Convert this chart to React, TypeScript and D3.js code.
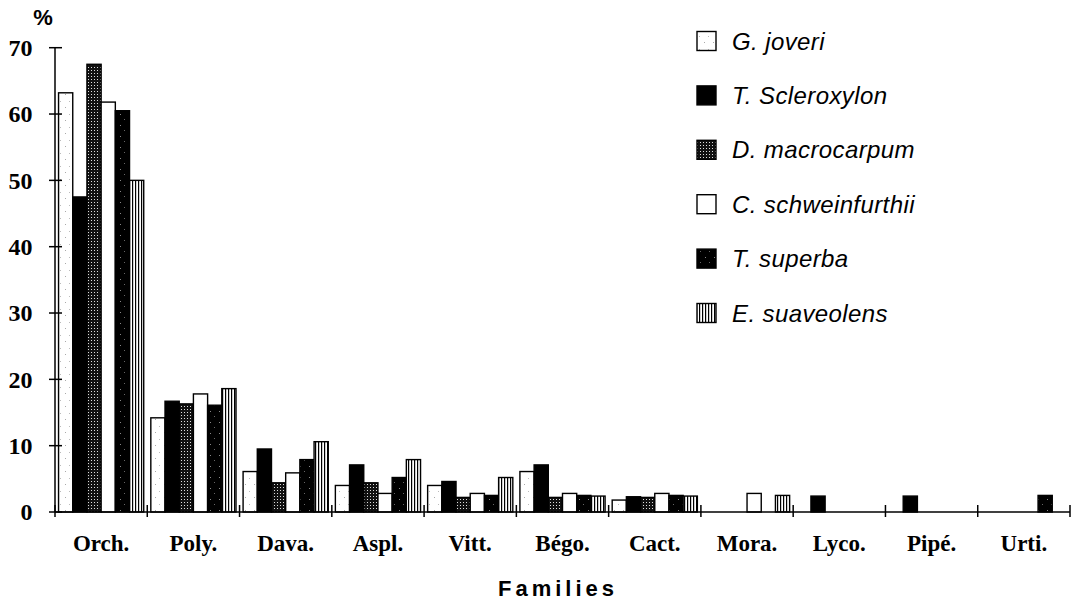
import React from 'react';
import * as d3 from 'd3';

const categories = ['Orch.', 'Poly.', 'Dava.', 'Aspl.', 'Vitt.', 'Bégo.', 'Cact.', 'Mora.', 'Lyco.', 'Pipé.', 'Urti.'];
const seriesNames = ['G. joveri', 'T. Scleroxylon', 'D. macrocarpum', 'C. schweinfurthii', 'T. superba', 'E. suaveolens'];
const gJoveri = [63.2, 14.2, 6.1, 4.0, 4.0, 6.1, 1.8, 0, 0, 0, 0];
const tScleroxylon = [47.5, 16.7, 9.5, 7.1, 4.6, 7.1, 2.3, 0, 2.4, 2.4, 0];
const dMacrocarpum = [67.5, 16.3, 4.4, 4.4, 2.2, 2.2, 2.2, 0, 0, 0, 0];
const cSchweinfurthii = [61.8, 17.8, 5.9, 2.8, 2.8, 2.8, 2.8, 2.8, 0, 0, 0];
const tSuperba = [60.5, 16.1, 7.9, 5.2, 2.5, 2.5, 2.5, 0, 0, 0, 2.5];
const eSuaveolens = [50.0, 18.6, 10.6, 7.9, 5.2, 2.4, 2.4, 2.5, 0, 0, 0];
const yTicks = [0, 10, 20, 30, 40, 50, 60, 70];

const seriesValues = [gJoveri, tScleroxylon, dMacrocarpum, cSchweinfurthii, tSuperba, eSuaveolens];
const fills = ['url(#pG)', '#000', 'url(#pD)', '#fff', 'url(#pT)', 'url(#pE)'];

export default function App() {
  const W = 1078, H = 602;
  const x0 = d3.scaleBand<string>().domain(categories).range([55, 1070]).padding(0);
  const x1 = d3.scaleBand<string>().domain(seriesNames).range([0, x0.bandwidth()]).paddingInner(0).paddingOuter(0.25);
  const y = d3.scaleLinear().domain([0, 70]).range([512, 47.7]);
  const serif = '"Liberation Serif", "Times New Roman", serif';
  const sans = '"Liberation Sans", Arial, sans-serif';
  const boundaries = d3.range(categories.length + 1).map(i => 55 + i * x0.bandwidth());

  return (
    <svg width={W} height={H} style={{ position: 'absolute', left: 0, top: 0, background: '#fff' }}>
      <defs>
        <pattern id="pG" width="9" height="13" patternUnits="userSpaceOnUse">
          <rect width="9" height="13" fill="#fff" />
          <rect x="2" y="3" width="1" height="1" fill="#aaa" />
          <rect x="6" y="10" width="1" height="1" fill="#bbb" />
        </pattern>
        <pattern id="pD" width="3" height="3" patternUnits="userSpaceOnUse">
          <rect width="3" height="3" fill="#111" />
          <rect x="1" y="1" width="1" height="1" fill="#ddd" />
        </pattern>
        <pattern id="pT" width="9" height="11" patternUnits="userSpaceOnUse">
          <rect width="9" height="11" fill="#000" />
          <rect x="3" y="4" width="1" height="1" fill="#888" />
          <rect x="7" y="9" width="1" height="1" fill="#666" />
        </pattern>
        <pattern id="pE" width="3" height="3" patternUnits="userSpaceOnUse">
          <rect width="3" height="3" fill="#fff" />
          <rect x="0" y="0" width="1.2" height="3" fill="#000" />
        </pattern>
      </defs>

      {/* bars */}
      {seriesValues.map((vals, si) => (
        <g key={si}>
          {vals.map((v, ci) => v > 0 ? (
            <rect key={ci}
              x={(x0(categories[ci]) as number) + (x1(seriesNames[si]) as number)}
              y={y(v)}
              width={x1.bandwidth()}
              height={y(0) - y(v)}
              fill={fills[si]} stroke="#000" strokeWidth={1.4} />
          ) : null)}
        </g>
      ))}

      {/* y axis */}
      <line x1={55} x2={55} y1={y(70)} y2={y(0)} stroke="#000" strokeWidth={1.5} />
      {yTicks.map(t => (
        <g key={t}>
          <line x1={49} x2={62} y1={y(t)} y2={y(t)} stroke="#000" strokeWidth={1.5} />
          <text x={32.5} y={y(t)} dy="0.35em" textAnchor="end" fontFamily={serif} fontWeight="bold" fontSize={24}>{t}</text>
        </g>
      ))}
      <text x={43} y={25} textAnchor="middle" fontFamily={sans} fontWeight="bold" fontSize={22}>%</text>

      {/* x axis */}
      <line x1={55} x2={1070} y1={y(0)} y2={y(0)} stroke="#000" strokeWidth={1.5} />
      {boundaries.map((b, i) => (
        <line key={i} x1={b} x2={b} y1={505} y2={517} stroke="#000" strokeWidth={1.5} />
      ))}
      {categories.map(c => (
        <text key={c} x={(x0(c) as number) + x0.bandwidth() / 2} y={551} textAnchor="middle"
          fontFamily={serif} fontWeight="bold" fontSize={23}>{c}</text>
      ))}
      <text x={558} y={596} textAnchor="middle" fontFamily={sans} fontWeight="bold" fontSize={22} letterSpacing={4}>Families</text>

      {/* legend */}
      {seriesNames.map((s, i) => {
        const cy = 41 + i * 54.4;
        return (
          <g key={s}>
            <rect x={697} y={cy - 9.5} width={19} height={19} fill={fills[i]} stroke="#000" strokeWidth={1.4} />
            <text x={732} y={cy + 8.5} fontFamily={sans} fontStyle="italic" fontSize={24} letterSpacing={0.4}>{s}</text>
          </g>
        );
      })}
    </svg>
  );
}
